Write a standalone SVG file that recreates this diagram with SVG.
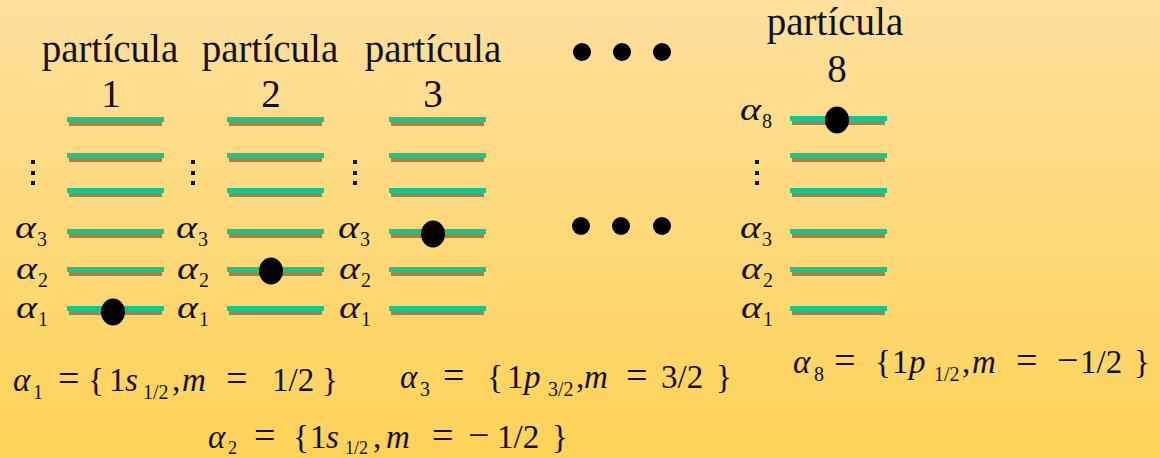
<svg xmlns="http://www.w3.org/2000/svg" width="1160" height="458" viewBox="0 0 1160 458">
<defs>
<linearGradient id="bg" x1="0" y1="0" x2="0" y2="1">
<stop offset="0" stop-color="#FEE09D"/>
<stop offset="1" stop-color="#FFD258"/>
</linearGradient>
<g id="lvl">
<rect x="2" y="5" width="93" height="4" fill="#9D8747"/>
<rect x="0" y="0" width="97" height="5" fill="#0FC892"/>
</g>
<g id="vdots" fill="#111">
<rect x="-2" y="-2" width="4" height="4"/>
<rect x="-2" y="9" width="4" height="4"/>
<rect x="-2" y="19" width="4" height="4"/>
</g>
</defs>
<style>
text{font-family:"Liberation Serif","Times New Roman",serif;fill:#111}
.t{font-size:39px;text-anchor:middle}
.a{font-size:31px;font-style:italic}
.s{font-size:20px;font-style:normal}
.e{font-size:33px}
.i{font-style:italic}
.sm{font-size:20px}
.sm2{font-size:18px}
.op{font-size:38px}
</style>
<rect width="1160" height="458" fill="url(#bg)"/>

<g id="particle1">
<text class="t" x="110" y="62">partícula</text>
<text class="t" x="111" y="107">1</text>
<use href="#lvl" x="67" y="117"/>
<use href="#lvl" x="67" y="153"/>
<use href="#lvl" x="67" y="188"/>
<use href="#lvl" x="67" y="229"/>
<use href="#lvl" x="67" y="267"/>
<use href="#lvl" x="67" y="306"/>
<use href="#vdots" x="33" y="162"/>
<text class="a" x="15" y="238" textLength="21" lengthAdjust="spacingAndGlyphs">α</text><text class="s" x="37" y="246">3</text>
<text class="a" x="16" y="279" textLength="21" lengthAdjust="spacingAndGlyphs">α</text><text class="s" x="38" y="287">2</text>
<text class="a" x="16" y="318" textLength="21" lengthAdjust="spacingAndGlyphs">α</text><text class="s" x="38" y="326">1</text>
<ellipse cx="113" cy="312" rx="12" ry="13.5" fill="#000"/>
</g>

<g id="particle2">
<text class="t" x="270" y="62">partícula</text>
<text class="t" x="271" y="107">2</text>
<use href="#lvl" x="227" y="117"/>
<use href="#lvl" x="227" y="153"/>
<use href="#lvl" x="227" y="188"/>
<use href="#lvl" x="227" y="229"/>
<use href="#lvl" x="227" y="267"/>
<use href="#lvl" x="227" y="306"/>
<use href="#vdots" x="193" y="162"/>
<text class="a" x="176" y="238" textLength="21" lengthAdjust="spacingAndGlyphs">α</text><text class="s" x="198" y="246">3</text>
<text class="a" x="177" y="279" textLength="21" lengthAdjust="spacingAndGlyphs">α</text><text class="s" x="199" y="287">2</text>
<text class="a" x="177" y="318" textLength="21" lengthAdjust="spacingAndGlyphs">α</text><text class="s" x="199" y="326">1</text>
<ellipse cx="271" cy="271" rx="12" ry="13.5" fill="#000"/>
</g>

<g id="particle3">
<text class="t" x="433" y="62">partícula</text>
<text class="t" x="433" y="107">3</text>
<use href="#lvl" x="389" y="117"/>
<use href="#lvl" x="389" y="153"/>
<use href="#lvl" x="389" y="188"/>
<use href="#lvl" x="389" y="229"/>
<use href="#lvl" x="389" y="267"/>
<use href="#lvl" x="389" y="306"/>
<use href="#vdots" x="355" y="162"/>
<text class="a" x="338" y="238" textLength="21" lengthAdjust="spacingAndGlyphs">α</text><text class="s" x="360" y="246">3</text>
<text class="a" x="339" y="279" textLength="21" lengthAdjust="spacingAndGlyphs">α</text><text class="s" x="361" y="287">2</text>
<text class="a" x="339" y="318" textLength="21" lengthAdjust="spacingAndGlyphs">α</text><text class="s" x="361" y="326">1</text>
<ellipse cx="433" cy="234" rx="12" ry="13.5" fill="#000"/>
</g>

<g id="ellipsis">
<circle cx="582" cy="52" r="9" fill="#000"/>
<circle cx="622" cy="52" r="9" fill="#000"/>
<circle cx="662" cy="52" r="9" fill="#000"/>
<circle cx="581" cy="226" r="9" fill="#000"/>
<circle cx="621" cy="226" r="9" fill="#000"/>
<circle cx="662" cy="226" r="9" fill="#000"/>
</g>

<g id="particle8">
<text class="t" x="835" y="35">partícula</text>
<text class="t" x="837" y="82">8</text>
<use href="#lvl" x="790" y="116"/>
<use href="#lvl" x="790" y="153"/>
<use href="#lvl" x="790" y="188"/>
<use href="#lvl" x="790" y="229"/>
<use href="#lvl" x="790" y="267"/>
<use href="#lvl" x="790" y="306"/>
<use href="#vdots" x="757" y="162"/>
<text class="a" x="740" y="120" textLength="21" lengthAdjust="spacingAndGlyphs">α</text><text class="s" x="762" y="128">8</text>
<text class="a" x="740" y="238" textLength="21" lengthAdjust="spacingAndGlyphs">α</text><text class="s" x="762" y="246">3</text>
<text class="a" x="741" y="279" textLength="21" lengthAdjust="spacingAndGlyphs">α</text><text class="s" x="763" y="287">2</text>
<text class="a" x="741" y="318" textLength="21" lengthAdjust="spacingAndGlyphs">α</text><text class="s" x="763" y="326">1</text>
<ellipse cx="837" cy="120" rx="12" ry="13.5" fill="#000"/>
</g>

<g id="eq1">
<text class="e" y="391"><tspan class="i" x="13">α</tspan><tspan class="sm" x="33" dy="8">1</tspan><tspan class="op" x="58" dy="-8">=</tspan><tspan x="88">{</tspan><tspan x="109">1</tspan><tspan class="i" x="125">s</tspan><tspan class="sm" x="143" dy="8">1/2</tspan><tspan x="172" dy="-8">,</tspan><tspan class="i" x="182">m</tspan><tspan class="op" x="226">=</tspan><tspan x="272">1/2</tspan><tspan x="322">}</tspan></text>
</g>

<g id="eq3">
<text class="e" y="388"><tspan class="i" x="400">α</tspan><tspan class="sm" x="420" dy="8">3</tspan><tspan class="op" x="443" dy="-8">=</tspan><tspan x="487">{</tspan><tspan x="507">1</tspan><tspan class="i" x="524">p</tspan><tspan class="sm" x="548" dy="8">3/2</tspan><tspan x="576" dy="-8">,</tspan><tspan class="i" x="584">m</tspan><tspan class="op" x="626">=</tspan><tspan x="661">3/2</tspan><tspan x="716">}</tspan></text>
</g>

<g id="eq8">
<text class="e" y="373"><tspan class="i" x="793">α</tspan><tspan class="sm" x="814" dy="8">8</tspan><tspan class="op" x="834" dy="-8">=</tspan><tspan x="875">{</tspan><tspan x="892">1</tspan><tspan class="i" x="909">p</tspan><tspan class="sm" x="934" dy="8">1/2</tspan><tspan x="962" dy="-8">,</tspan><tspan class="i" x="972">m</tspan><tspan class="op" x="1016">=</tspan><tspan class="op" x="1057">−</tspan><tspan x="1080">1/2</tspan><tspan x="1134">}</tspan></text>
</g>

<g id="eq2">
<text class="e" y="448"><tspan class="i" x="208">α</tspan><tspan class="sm2" x="228" dy="6">2</tspan><tspan class="op" x="254" dy="-6">=</tspan><tspan x="293">{</tspan><tspan x="310">1</tspan><tspan class="i" x="326">s</tspan><tspan class="sm2" x="345" dy="6">1/2</tspan><tspan x="373" dy="-6">,</tspan><tspan class="i" x="386">m</tspan><tspan class="op" x="432">=</tspan><tspan class="op" x="468">−</tspan><tspan x="497">1/2</tspan><tspan x="552">}</tspan></text>
</g>
</svg>
